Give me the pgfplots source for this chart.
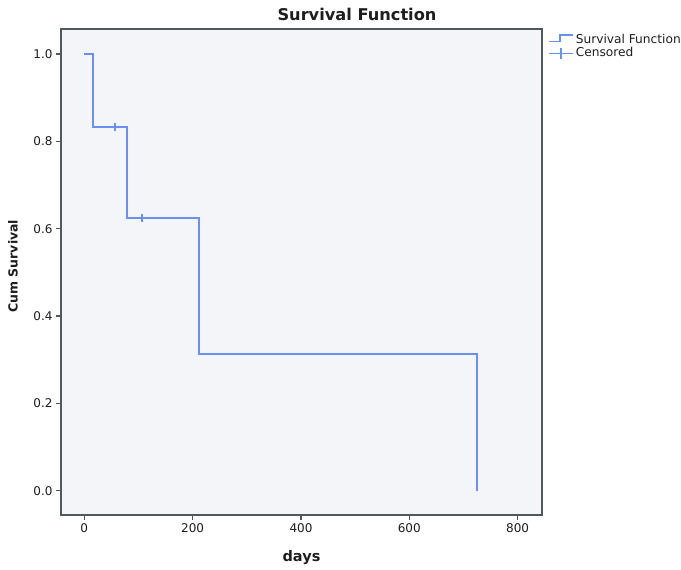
\documentclass[border=0pt]{standalone}
\usepackage{fontspec}
\setmainfont{DejaVu Sans}
\usepackage{pgfplots}
\pgfplotsset{compat=1.18}

\definecolor{plotbg}{HTML}{F3F5F8}
\definecolor{kmblue}{HTML}{6A90F4}
\definecolor{frame}{HTML}{50585A}
\definecolor{txt}{HTML}{1E1E1E}

\begin{document}
\begin{tikzpicture}
\useasboundingbox (0,0) rectangle (681pt,570pt);

% title sits off-centre, as in the SPSS output
\node[font=\fontsize{16.2}{19}\selectfont\bfseries, text=txt] at (357pt,555.5pt) {Survival Function};

\begin{axis}[
    at={(61pt,55pt)}, anchor=south west,
    scale only axis,
    width=481pt, height=486pt,
    xmin=-43, xmax=845,
    ymin=-0.0556, ymax=1.0572,
    axis background/.style={fill=plotbg},
    axis line style={frame, line width=1.4pt},
    xtick={0,200,400,600,800},
    ytick={0,0.2,0.4,0.6,0.8,1.0},
    yticklabel style={/pgf/number format/.cd, fixed, fixed zerofill, precision=1},
    /pgf/number format/assume math mode=true,
    tick align=outside,
    xtick pos=left, ytick pos=left,
    major tick length=5pt,
    tick style={frame, line width=1.5pt},
    minor tick num=0,
    ticklabel style={font=\fontsize{12}{14}\selectfont, text=txt},
    xlabel={days},
    ylabel={Cum Survival},
    xlabel style={at={(axis description cs:0.5,0)}, anchor=center, yshift=-43pt,
        font=\fontsize{14.5}{17}\selectfont\bfseries, text=txt},
    ylabel style={at={(axis description cs:-0.0998,0.512)}, anchor=center,
        font=\fontsize{12.5}{15}\selectfont\bfseries, text=txt},
    legend style={
        at={(axis description cs:1,1)}, anchor=north west,
        xshift=3pt, yshift=-3pt,
        draw=none, fill=none,
        font=\fontsize{12.2}{14}\selectfont, text=txt,
        row sep=2pt,
        nodes={inner sep=0pt, text height=9pt, text depth=2pt},
    },
    legend cell align=left,
]

% Kaplan-Meier estimate
\addplot[kmblue, line width=1.7pt, const plot mark left,
    legend image code/.code={
        \draw[kmblue, line width=1.5pt] (0pt,-2pt) -- (11pt,-2pt) -- (11pt,4.5pt) -- (24pt,4.5pt);
        \path (26pt,0pt);
    }] coordinates {
    (0,1.0)
    (15.5,0.8333)
    (78.8,0.625)
    (211.2,0.3125)
    (724.4,0.0)
};
\addlegendentry{Survival Function}

% censored cases
\addplot[kmblue, only marks, mark=|, mark size=4pt, mark options={line width=1.6pt},
    legend image code/.code={
        \draw[kmblue, line width=1.5pt] (0pt,0pt) -- (24pt,0pt);
        \draw[kmblue, line width=1.5pt] (12pt,-5.5pt) -- (12pt,5.5pt);
        \path (26pt,0pt);
    }] coordinates {
    (56.7,0.8333)
    (106.5,0.625)
};
\addlegendentry{Censored}

\end{axis}
\end{tikzpicture}
\end{document}
